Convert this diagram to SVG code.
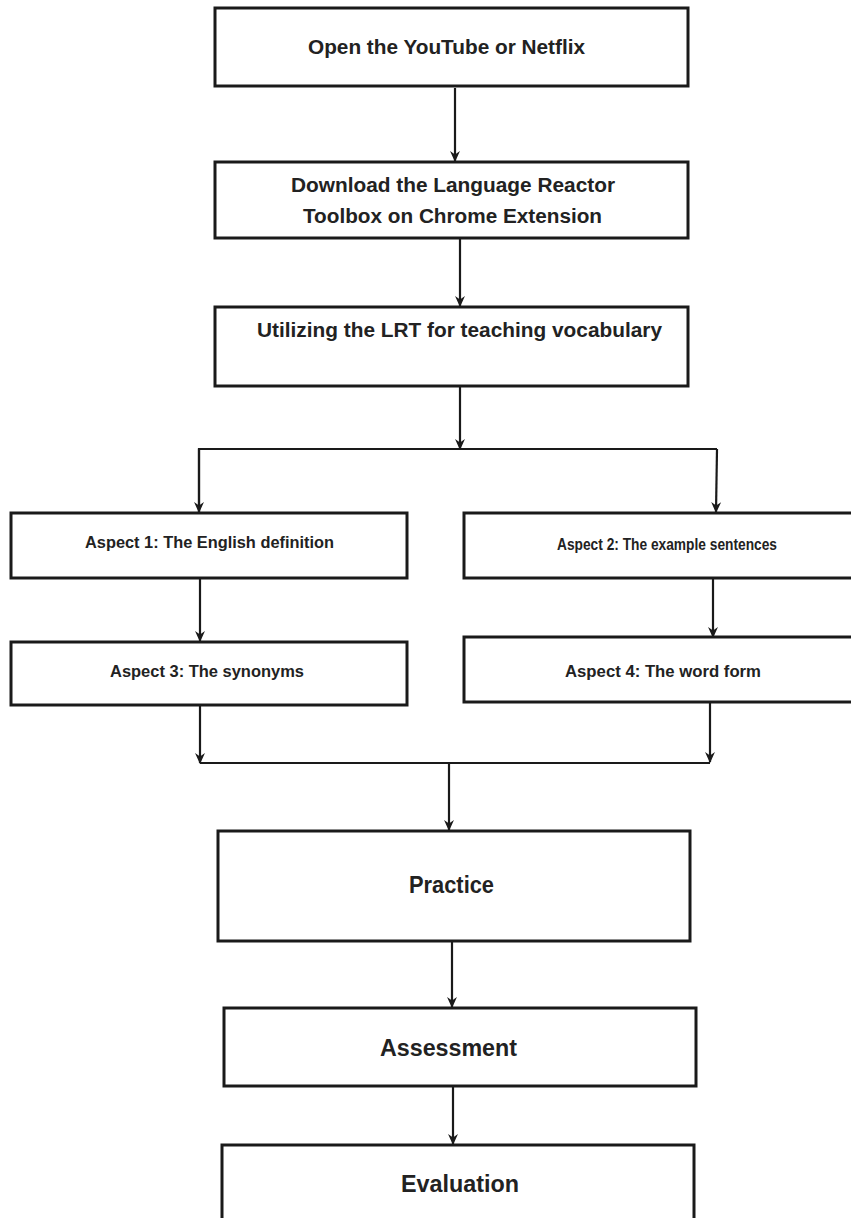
<svg xmlns="http://www.w3.org/2000/svg" width="851" height="1218" viewBox="0 0 851 1218">
<defs>
<style>
.box{fill:#fff;stroke:#1a1a1a;stroke-width:3}
.ln{fill:none;stroke:#1a1a1a;stroke-width:2.2}
.t{font-family:"Liberation Sans",Arial,sans-serif;font-weight:bold;fill:#222}
.m{font-size:20px}
.a{font-size:17px}
.b{font-size:23px}
</style>
<marker id="ah" markerUnits="userSpaceOnUse" markerWidth="11" markerHeight="11" viewBox="0 0 10 10" refX="9" refY="5" orient="auto">
<path d="M0,0.5 L10,5 L0,9.5 L3,5 Z" fill="#1a1a1a"/>
</marker>
</defs>
<rect width="851" height="1218" fill="#fff"/>
<g id="connectors">
<line class="ln" x1="455" y1="88" x2="455" y2="161" marker-end="url(#ah)"/>
<line class="ln" x1="460" y1="238" x2="460" y2="306" marker-end="url(#ah)"/>
<line class="ln" x1="460" y1="386" x2="460" y2="449" marker-end="url(#ah)"/>
<polyline class="ln" points="199,513 199,449 717,449"/>
<line class="ln" x1="199" y1="449" x2="199" y2="512" marker-end="url(#ah)"/>
<line class="ln" x1="717" y1="449" x2="716" y2="512" marker-end="url(#ah)"/>
<line class="ln" x1="200" y1="578" x2="200" y2="641" marker-end="url(#ah)"/>
<line class="ln" x1="713" y1="578" x2="713" y2="637" marker-end="url(#ah)"/>
<line class="ln" x1="200" y1="705" x2="200" y2="763" marker-end="url(#ah)"/>
<line class="ln" x1="710" y1="703" x2="710" y2="762" marker-end="url(#ah)"/>
<line class="ln" x1="200" y1="763" x2="710" y2="763"/>
<line class="ln" x1="449" y1="763" x2="449" y2="830" marker-end="url(#ah)"/>
<line class="ln" x1="452" y1="941" x2="452" y2="1007" marker-end="url(#ah)"/>
<line class="ln" x1="453" y1="1086" x2="453" y2="1144" marker-end="url(#ah)"/>
</g>
<g id="n1"><rect class="box" x="215" y="8" width="473" height="78"/>
<text class="t m" x="308" y="54" textLength="277" lengthAdjust="spacingAndGlyphs">Open the YouTube or Netflix</text></g>
<g id="n2"><rect class="box" x="215" y="162" width="473" height="76"/>
<text class="t m" x="291" y="192" textLength="324" lengthAdjust="spacingAndGlyphs">Download the Language Reactor</text>
<text class="t m" x="303" y="223" textLength="299" lengthAdjust="spacingAndGlyphs">Toolbox on Chrome Extension</text></g>
<g id="n3"><rect class="box" x="215" y="307" width="473" height="79"/>
<text class="t m" x="257" y="337" textLength="405" lengthAdjust="spacingAndGlyphs">Utilizing the LRT for teaching vocabulary</text></g>
<g id="n4"><rect class="box" x="11" y="513" width="396" height="65"/>
<text class="t a" x="85" y="548" textLength="249" lengthAdjust="spacingAndGlyphs">Aspect  1: The English definition</text></g>
<g id="n5"><rect class="box" x="464" y="513" width="392" height="65"/>
<text class="t a" x="557" y="550" textLength="220" lengthAdjust="spacingAndGlyphs">Aspect 2: The example sentences</text></g>
<g id="n6"><rect class="box" x="11" y="642" width="396" height="63"/>
<text class="t a" x="110" y="677" textLength="194" lengthAdjust="spacingAndGlyphs">Aspect  3: The synonyms</text></g>
<g id="n7"><rect class="box" x="464" y="637" width="392" height="65"/>
<text class="t a" x="565" y="677" textLength="196" lengthAdjust="spacingAndGlyphs">Aspect  4: The word form</text></g>
<g id="n8"><rect class="box" x="218" y="831" width="472" height="110"/>
<text class="t b" x="409" y="893" textLength="85" lengthAdjust="spacingAndGlyphs">Practice</text></g>
<g id="n9"><rect class="box" x="224" y="1008" width="472" height="78"/>
<text class="t b" x="380" y="1056" textLength="137" lengthAdjust="spacingAndGlyphs">Assessment</text></g>
<g id="n10"><rect class="box" x="222" y="1145" width="472" height="80"/>
<text class="t b" x="401" y="1192" textLength="118" lengthAdjust="spacingAndGlyphs">Evaluation</text></g>
</svg>
